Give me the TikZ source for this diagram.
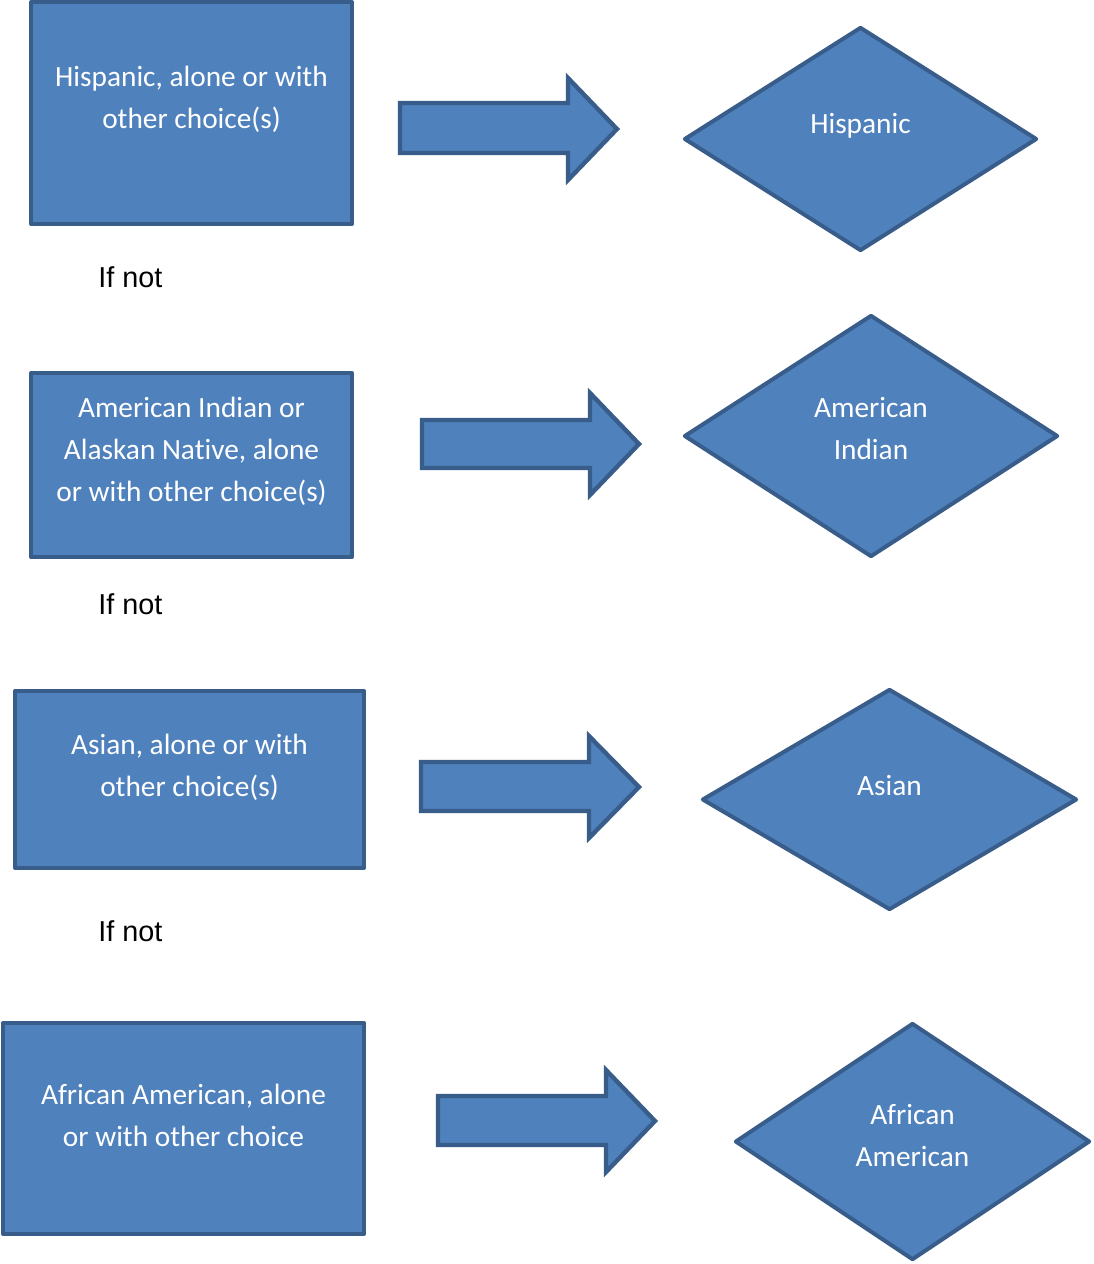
\documentclass[tikz,border=0pt]{standalone}
\usepackage{fontspec}
\setmainfont[RawFeature={-liga;-clig;-dlig}]{Carlito}
\newfontfamily\ifnotfont{Liberation Sans}
\usetikzlibrary{shapes.geometric}
\definecolor{fillblue}{HTML}{4F81BD}
\definecolor{edgeblue}{HTML}{385D8A}
\tikzset{
  box/.style={rectangle, draw=edgeblue, fill=fillblue, line width=3pt, line join=round, inner sep=0pt},
  dia/.style={diamond, draw=edgeblue, fill=fillblue, line width=3pt, line join=round, inner sep=0pt},
  blockarrow/.style={draw=edgeblue, fill=fillblue, line width=3.3pt, line join=miter},
  lbl/.style={text=white, align=center, font=\fontsize{22}{31.5}\selectfont, inner sep=0pt},
  ifnot/.style={anchor=west, font=\ifnotfont\fontsize{21.6}{26}\selectfont, inner sep=0pt}
}
\newcommand{\blockarr}[9]{%
  \draw[blockarrow] (#1,#2) coordinate (#9a) -- (#4,#2) -- (#4,#5) -- (#7,#8) coordinate (#9tip) -- (#4,#6) -- (#4,#3) -- (#1,#3) -- cycle;}
\begin{document}
\begin{tikzpicture}[x=0.75pt,y=-0.75pt]
\useasboundingbox (0,0) rectangle (1093,1264);
% row 1
\node[box, minimum width=240.75pt, minimum height=166.5pt] (b1) at (191.5,113) {};
\node[lbl] (t1) at (191.5,99.5) {Hispanic, alone or with\\other choice(s)};
\blockarr{400}{103}{153}{568}{78}{180}{617}{129}{ar1}
\node[dia, minimum width=264.75pt, minimum height=168pt] (d1) at (860.5,139) {};
\node[lbl] (u1) at (860.5,125.5) {Hispanic};
\node[ifnot] (n1) at (98,277) {If not};
% row 2
\node[box, minimum width=240.75pt, minimum height=138pt] (b2) at (191.5,465) {};
\node[lbl] (t2) at (191.5,451.5) {American Indian or\\Alaskan Native, alone\\or with other choice(s)};
\blockarr{422}{420}{468}{590}{393}{495}{639}{444}{ar2}
\node[dia, minimum width=280.5pt, minimum height=181.5pt] (d2) at (871,436) {};
\node[lbl] (u2) at (871,429) {American\\Indian};
\node[ifnot] (n2) at (98,604) {If not};
% row 3
\node[box, minimum width=261.75pt, minimum height=132.75pt] (b3) at (189.5,779.5) {};
\node[lbl] (t3) at (189.5,767.5) {Asian, alone or with\\other choice(s)};
\blockarr{421}{762}{811}{589}{736}{838}{639}{787}{ar3}
\node[dia, minimum width=281.25pt, minimum height=165.75pt] (d3) at (889.5,799.5) {};
\node[lbl] (u3) at (889.5,786) {Asian};
\node[ifnot] (n3) at (98,931) {If not};
% row 4
\node[box, minimum width=270.75pt, minimum height=158.25pt] (b4) at (183.5,1128.5) {};
\node[lbl] (t4) at (183.5,1115) {African American, alone\\or with other choice};
\blockarr{438}{1096}{1145}{606}{1070}{1172}{655}{1121}{ar4}
\node[dia, minimum width=266.25pt, minimum height=177.75pt] (d4) at (912.5,1141.5) {};
\node[lbl] (u4) at (912.5,1136) {African\\American};
\end{tikzpicture}
\end{document}
